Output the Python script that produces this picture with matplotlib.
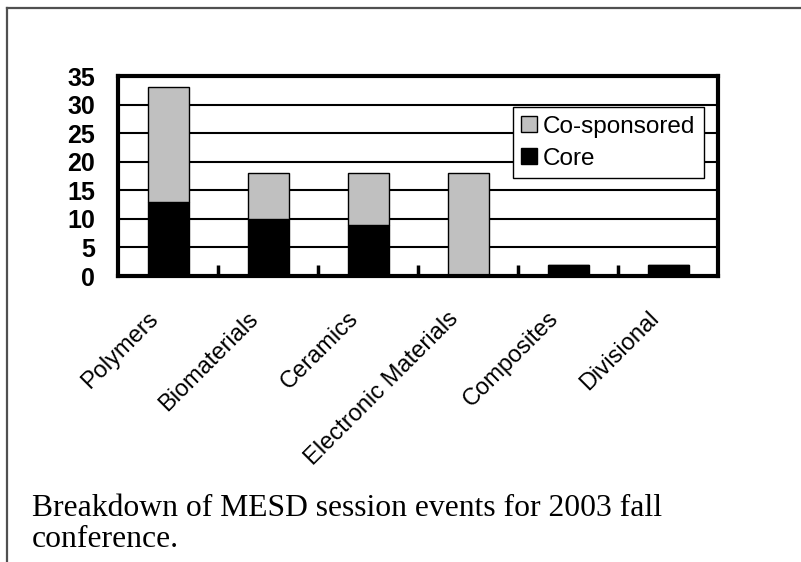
# -*- coding: utf-8 -*-

import numpy as np
import matplotlib
matplotlib.use('Agg')
import matplotlib.pyplot as plt
from matplotlib.lines import Line2D
from matplotlib.transforms import ScaledTranslation

categories = ['Polymers', 'Biomaterials', 'Ceramics', 'Electronic Materials',
              'Composites', 'Divisional']
core = [13, 10, 9, 0, 2, 2]
co_sponsored = [20, 8, 9, 18, 0, 0]
y_ticks = [0, 5, 10, 15, 20, 25, 30, 35]
caption = 'Breakdown of MESD session events for 2003 fall\nconference.'


def draw_chart():
    fig = plt.figure(figsize=(8.01, 5.62), dpi=100)
    ax = fig.add_axes([118 / 801, 1 - 276 / 562, 600 / 801, 200 / 562])

    x = np.arange(len(categories))
    ax.bar(x, core, width=0.41, color='black', edgecolor='black',
           linewidth=1, label='Core', zorder=3)
    ax.bar(x, co_sponsored, width=0.41, bottom=core, color='#c0c0c0',
           edgecolor='black', linewidth=1, label='Co-sponsored', zorder=3)

    ax.set_xlim(-0.5, len(categories) - 0.5)
    ax.set_ylim(0, 35)
    ax.set_yticks(y_ticks)
    ax.set_yticklabels([str(t) for t in y_ticks], fontsize=18,
                       fontweight='bold', family='Liberation Sans')
    ax.tick_params(axis='y', length=0, pad=16.5)

    ax.set_xticks(x)
    ax.set_xticklabels(categories, rotation=45, ha='right', va='bottom',
                       rotation_mode='anchor', fontsize=17,
                       family='Liberation Sans')
    ax.tick_params(axis='x', which='major', length=0, pad=34)
    # nudge the slanted labels a little left
    shift = ScaledTranslation(-5 / 100, 0, fig.dpi_scale_trans)
    for lbl in ax.get_xticklabels():
        lbl.set_transform(lbl.get_transform() + shift)
    ax.set_xticks(x[:-1] + 0.5, minor=True)
    ax.tick_params(axis='x', which='minor', direction='in', length=8,
                   width=2.5, color='black')

    ax.yaxis.grid(True, color='black', linewidth=1.5, zorder=1)
    ax.set_axisbelow(True)
    for sp in ax.spines.values():
        sp.set_linewidth(3)
        sp.set_color('black')
        sp.set_zorder(4)

    handles, labels = ax.get_legend_handles_labels()
    leg = ax.legend(handles[::-1], labels[::-1], loc='upper right',
                    bbox_to_anchor=(704 / 801, 1 - 107 / 562),
                    bbox_transform=fig.transFigure,
                    prop={'family': 'Liberation Sans', 'size': 17.5},
                    frameon=True, fancybox=False, framealpha=1,
                    edgecolor='black', handlelength=0.65, handleheight=0.65,
                    handletextpad=0.25, borderpad=0.35, labelspacing=0.42,
                    borderaxespad=0)
    leg.get_frame().set_linewidth(1)
    leg.set_zorder(5)

    # page frame lines (top and left)
    fig.add_artist(Line2D([7 / 801, 1], [1 - 8 / 562, 1 - 8 / 562],
                          color='#505050', linewidth=1.6,
                          transform=fig.transFigure))
    fig.add_artist(Line2D([7 / 801, 7 / 801], [0, 1 - 8 / 562],
                          color='#505050', linewidth=1.6,
                          transform=fig.transFigure))

    fig.text(32 / 801, 1 - 494 / 562, caption, ha='left', va='top',
             fontsize=22.8, family='Liberation Serif', linespacing=1.08)

    fig.savefig('out.png', dpi=100)
    plt.close(fig)


if __name__ == '__main__':
    draw_chart()
